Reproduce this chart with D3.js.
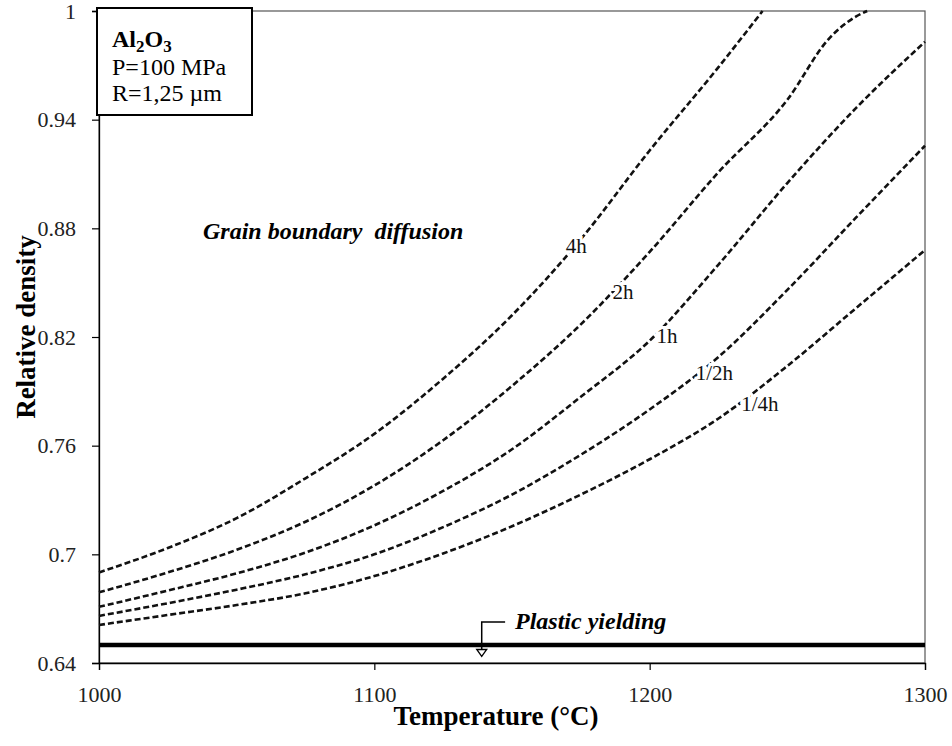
<!DOCTYPE html>
<html>
<head>
<meta charset="utf-8">
<script src="https://cdn.jsdelivr.net/npm/d3@7"></script>
<style>
  body { margin: 0; background: #fff; }
  svg text { font-family: "Liberation Serif", "Times New Roman", Times, serif !important; }
</style>
</head>
<body>
<div id="chart"></div>
<script>
// curve data (temperature in C, relative density)
const temps = [1000, 1025, 1050, 1075, 1100, 1125, 1150, 1175, 1200, 1225, 1250, 1275, 1300];
const temps4h = [1000, 1025, 1050, 1075, 1100, 1125, 1150, 1175, 1200, 1225, 1241];
const temps2h = [1000, 1025, 1050, 1075, 1100, 1125, 1150, 1175, 1200, 1225, 1250, 1265, 1275, 1279];

const dens4h  = [0.690, 0.7035, 0.720, 0.742, 0.7665, 0.797, 0.832, 0.874, 0.923, 0.969, 1.0];
const dens2h  = [0.679, 0.690, 0.7025, 0.718, 0.738, 0.763, 0.793, 0.827, 0.867, 0.911, 0.951, 0.9845, 0.997, 1.0];
const dens1h  = [0.671, 0.680, 0.6895, 0.701, 0.716, 0.735, 0.758, 0.787, 0.818, 0.860, 0.905, 0.9465, 0.983];
const densHalf    = [0.666, 0.673, 0.6805, 0.689, 0.700, 0.715, 0.733, 0.755, 0.780, 0.809, 0.846, 0.886, 0.9256];
const densQuarter = [0.661, 0.6665, 0.672, 0.6785, 0.688, 0.7005, 0.7155, 0.733, 0.7525, 0.775, 0.804, 0.836, 0.868];

const seriesNames = ["4h", "2h", "1h", "1/2h", "1/4h"];
const labelTemps = [1173.3, 1190.3, 1206.3, 1223.5, 1240];
const labelDens  = [0.8704, 0.845, 0.8208, 0.8005, 0.783];

const yieldDensity = 0.65;
const xTicks = [1000, 1100, 1200, 1300];
const yTicks = [0.64, 0.7, 0.76, 0.82, 0.88, 0.94, 1];

let width = 952, height = 746;
let serif = "'Liberation Serif', 'Times New Roman', Times, serif";

let svg = d3.select("#chart").append("svg")
    .attr("width", width)
    .attr("height", height)
    .attr("font-family", serif);

let x = d3.scaleLinear().domain([1000, 1300]).range([99, 925]);
let y = d3.scaleLinear().domain([0.64, 1]).range([663, 11]);

// frame
svg.append("rect")
    .attr("x", x(1000)).attr("y", y(1))
    .attr("width", x(1300) - x(1000)).attr("height", y(0.64) - y(1))
    .attr("fill", "none").attr("stroke", "#555").attr("stroke-width", 1.2);

// axes
let yAxis = d3.axisLeft(y).tickValues(yTicks).tickSize(7).tickPadding(16)
    .tickFormat(d => String(+d.toFixed(2)));
let xAxis = d3.axisBottom(x).tickValues(xTicks).tickSize(7).tickPadding(16)
    .tickFormat(d3.format("d"));

let gy = svg.append("g").attr("transform", "translate(" + x(1000) + ",0)").call(yAxis);
let gx = svg.append("g").attr("transform", "translate(0," + y(0.64) + ")").call(xAxis);
[gx, gy].forEach(g => {
    g.attr("font-family", serif).attr("font-size", 22);
    g.select(".domain").attr("stroke", "#000").attr("stroke-width", 1.3);
    g.selectAll(".tick line").attr("stroke", "#000").attr("stroke-width", 1.2);
    g.selectAll(".tick text").attr("fill", "#222");
});

// curves
let curves = [
    { name: "4h", t: temps4h, d: dens4h },
    { name: "2h", t: temps2h, d: dens2h },
    { name: "1h", t: temps, d: dens1h },
    { name: "1/2h", t: temps, d: densHalf },
    { name: "1/4h", t: temps, d: densQuarter }
];

let line = d3.line()
    .x(p => x(p[0]))
    .y(p => y(p[1]))
    .curve(d3.curveMonotoneX);

svg.selectAll(".curve")
    .data(curves)
    .enter().append("path")
    .attr("class", "curve")
    .attr("d", c => line(c.t.map((t, i) => [t, c.d[i]])))
    .attr("fill", "none")
    .attr("stroke", "#111")
    .attr("stroke-width", 2.6)
    .attr("stroke-dasharray", "6,3");

// curve labels (white halo breaks the dashed line)
svg.selectAll(".clabel")
    .data(seriesNames)
    .enter().append("text")
    .attr("class", "clabel")
    .attr("x", (d, i) => x(labelTemps[i]))
    .attr("y", (d, i) => y(labelDens[i]))
    .attr("dy", "0.35em")
    .attr("text-anchor", "middle")
    .style("font-size", "21px")
    .style("paint-order", "stroke")
    .attr("stroke", "#fff")
    .attr("stroke-width", 6)
    .attr("fill", "#111")
    .text(d => d);

// plastic yielding line
svg.append("line")
    .attr("x1", x(1000)).attr("x2", x(1300))
    .attr("y1", y(yieldDensity)).attr("y2", y(yieldDensity))
    .attr("stroke", "#000").attr("stroke-width", 4.5);

// arrow annotation
let ax = x(1139), aTop = y(0.6627), aTip = y(0.6436);
svg.append("path")
    .attr("d", "M" + x(1147.5) + "," + aTop + "H" + ax + "V" + (aTip - 6))
    .attr("fill", "none").attr("stroke", "#000").attr("stroke-width", 1.5);
svg.append("path")
    .attr("d", "M" + (ax - 5) + "," + (aTip - 7) + "L" + (ax + 5) + "," + (aTip - 7) + "L" + ax + "," + aTip + "Z")
    .attr("fill", "#fff").attr("stroke", "#000").attr("stroke-width", 1.3);

svg.append("text")
    .attr("x", 515).attr("y", 629)
    .style("font-size", "24px").style("font-weight", "bold").style("font-style", "italic")
    .attr("fill", "#000")
    .text("Plastic yielding");

svg.append("text")
    .attr("x", 203).attr("y", 239)
    .style("font-size", "24px").style("font-weight", "bold").style("font-style", "italic")
    .style("white-space", "pre")
    .attr("fill", "#000")
    .text("Grain boundary  diffusion");

// info box
svg.append("rect")
    .attr("x", 97).attr("y", 8).attr("width", 155).attr("height", 107)
    .attr("fill", "#fff").attr("stroke", "#000").attr("stroke-width", 2);

let t1 = svg.append("text").attr("x", 112).attr("y", 47)
    .style("font-size", "24px").style("font-weight", "bold");
t1.append("tspan").text("Al");
t1.append("tspan").attr("dy", 5).style("font-size", "17px").text("2");
t1.append("tspan").attr("dy", -5).text("O");
t1.append("tspan").attr("dy", 5).style("font-size", "17px").text("3");

svg.append("text").attr("x", 112).attr("y", 75)
    .style("font-size", "24px").text("P=100 MPa");
svg.append("text").attr("x", 112).attr("y", 101)
    .style("font-size", "24px").text("R=1,25 µm");

// axis titles
svg.append("text")
    .attr("x", 496).attr("y", 725)
    .attr("text-anchor", "middle")
    .style("font-size", "27px").style("font-weight", "bold")
    .text("Temperature (°C)");

svg.append("text")
    .attr("transform", "translate(35,327) rotate(-90)")
    .attr("text-anchor", "middle")
    .style("font-size", "27px").style("font-weight", "bold")
    .text("Relative density");
</script>
</body>
</html>
